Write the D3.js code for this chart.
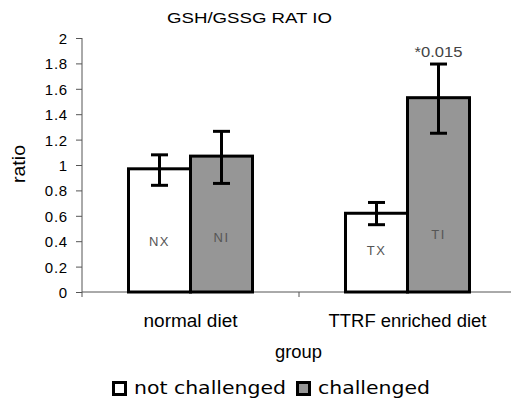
<!DOCTYPE html>
<html><head><meta charset="utf-8">
<script src="https://cdn.jsdelivr.net/npm/d3@7"></script>
<style>body{margin:0;background:#fff}svg{display:block}</style>
</head><body>
<script>
const categories = ["normal diet", "TTRF enriched diet"];
const seriesNames = ["not challenged", "challenged"];
const barLabels = [["NX", "NI"], ["TX", "TI"]];
const means = [[0.97, 1.07], [0.62, 1.53]];
const errLow = [[0.84, 0.855], [0.53, 1.25]];
const errHigh = [[1.08, 1.265], [0.705, 1.795]];
const labelVals = [[0.40, 0.43], [0.33, 0.45]];
const annotations = [["", ""], ["", "*0.015"]];
const yTicks = [0, 0.2, 0.4, 0.6, 0.8, 1, 1.2, 1.4, 1.6, 1.8, 2];
const colors = ["#ffffff", "#969696"];

const W = 511, H = 400;
const FONT = "Liberation Sans, Arial";
const svg = d3.select("body").append("svg").attr("width", W).attr("height", H);
const x0 = 82, x1 = 516, yB = 292, yT = 38;
const y = d3.scaleLinear().domain([0, 2]).range([yB, yT]);
const xb = d3.scaleBand().domain(categories).range([x0, x1]).paddingInner(0).paddingOuter(0);
const xs = d3.scaleBand().domain([0, 1]).range([0, 124]);
const groupOff = (xb.bandwidth() - 124) / 2;

// title
svg.append("text").attr("x", 249.5).attr("y", 23).attr("text-anchor", "middle")
  .attr("font-family", FONT).attr("font-size", 14.5)
  .attr("textLength", 165).attr("lengthAdjust", "spacingAndGlyphs")
  .text("GSH/GSSG RAT IO");

// y axis
const ya = d3.axisLeft(y).tickValues(yTicks).tickSize(6).tickFormat(d3.format("~g"));
const gy = svg.append("g").attr("transform", `translate(${x0},0)`).call(ya);
gy.select(".domain").attr("stroke", "#555").attr("d", `M0,${yT}V${yB + 5}`);
gy.selectAll(".tick line").attr("stroke", "#555");
gy.selectAll(".tick text").attr("font-family", FONT).attr("font-size", 15)
  .attr("fill", "#000").attr("x", -14).attr("dy", "0.36em").attr("letter-spacing", 0.8);

// x axis
const xa = d3.axisBottom(xb).tickSize(0).tickFormat("");
const gx = svg.append("g").attr("transform", `translate(0,${yB})`).call(xa);
gx.select(".domain").attr("stroke", "#555").attr("d", `M${x0},0H${x1}`);
gx.selectAll(".tick").remove();
svg.append("line").attr("x1", xb(categories[1])).attr("x2", xb(categories[1]))
  .attr("y1", yB).attr("y2", yB + 5).attr("stroke", "#555");

// category labels
const catWidths = [94, 158];
categories.forEach((c, i) => {
  svg.append("text").attr("x", xb(c) + xb.bandwidth() / 2).attr("y", 327).attr("text-anchor", "middle")
    .attr("font-family", FONT).attr("font-size", 17.5)
    .attr("textLength", catWidths[i]).attr("lengthAdjust", "spacingAndGlyphs")
    .text(c);
});

// axis titles
svg.append("text").attr("x", 298.5).attr("y", 358).attr("text-anchor", "middle")
  .attr("font-family", FONT).attr("font-size", 17.5)
  .attr("textLength", 47).attr("lengthAdjust", "spacingAndGlyphs").text("group");
svg.append("text").attr("transform", `translate(25,164) rotate(-90)`).attr("text-anchor", "middle")
  .attr("font-family", FONT).attr("font-size", 17.5)
  .attr("textLength", 38).attr("lengthAdjust", "spacingAndGlyphs").text("ratio");

// bars
categories.forEach((c, ci) => {
  [0, 1].forEach(si => {
    const bx = xb(c) + groupOff + xs(si);
    const bw = xs.bandwidth();
    svg.append("rect").attr("x", bx).attr("y", y(means[ci][si]))
      .attr("width", bw).attr("height", y(0) - y(means[ci][si]))
      .attr("fill", colors[si]).attr("stroke", "#000").attr("stroke-width", 3);
    const cx = bx + bw / 2;
    const eg = svg.append("g").attr("stroke", "#000").attr("stroke-width", 3);
    eg.append("line").attr("x1", cx).attr("x2", cx).attr("y1", y(errHigh[ci][si])).attr("y2", y(errLow[ci][si]));
    [errHigh[ci][si], errLow[ci][si]].forEach(v => {
      eg.append("line").attr("x1", cx - 8.5).attr("x2", cx + 8.5).attr("y1", y(v)).attr("y2", y(v));
    });
    svg.append("text").attr("x", cx).attr("y", y(labelVals[ci][si])).attr("text-anchor", "middle")
      .attr("font-family", FONT).attr("font-size", 13).attr("fill", "#555")
      .attr("letter-spacing", 1.5).attr("dy", "0.35em").text(barLabels[ci][si]);
    if (annotations[ci][si]) {
      svg.append("text").attr("x", cx).attr("y", y(errHigh[ci][si]) - 7).attr("text-anchor", "middle")
        .attr("font-family", FONT).attr("font-size", 14).attr("fill", "#444")
        .attr("textLength", 48).attr("lengthAdjust", "spacingAndGlyphs").text(annotations[ci][si]);
    }
  });
});

// legend
const legItems = [{x: 112, tx: 134, w: 152, name: seriesNames[0], col: colors[0]},
                  {x: 296, tx: 318, w: 112, name: seriesNames[1], col: colors[1]}];
legItems.forEach(it => {
  svg.append("rect").attr("x", it.x + 1.5).attr("y", 382.5).attr("width", 12).attr("height", 12)
    .attr("fill", it.col).attr("stroke", "#000").attr("stroke-width", 3);
  svg.append("text").attr("x", it.tx).attr("y", 394)
    .attr("font-family", "DejaVu Sans, Verdana").attr("font-size", 17)
    .attr("textLength", it.w).attr("lengthAdjust", "spacingAndGlyphs")
    .text(it.name);
});
</script>
</body></html>
